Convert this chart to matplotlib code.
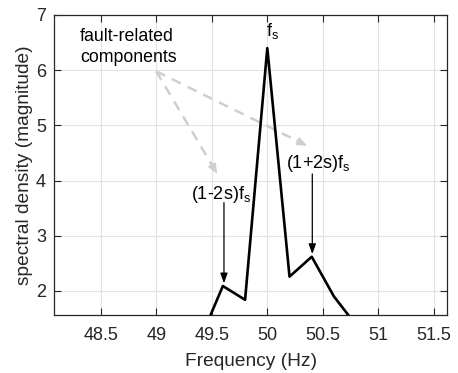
import numpy as np
import matplotlib
matplotlib.use("Agg")
import matplotlib.pyplot as plt

# spectrum around the supply frequency
freq = [49.4, 49.6, 49.8, 50.0, 50.2, 50.4, 50.6, 50.8]
magnitude = [1.14, 2.09, 1.84, 6.40, 2.26, 2.62, 1.90, 1.38]

x_ticks = [48.5, 49, 49.5, 50, 50.5, 51, 51.5]
x_ticklabels = ["48.5", "49", "49.5", "50", "50.5", "51", "51.5"]
y_ticks = [2, 3, 4, 5, 6, 7]

# annotation anchors (data coords)
fs_label = (50.05, 6.52)
lower_label = (49.58, 3.67)
upper_label = (50.46, 4.23)
lower_arrow = ((49.61, 3.60), (49.61, 2.14))
upper_arrow = ((50.405, 4.12), (50.405, 2.67))
fault_text = (48.315, 6.77)
fault_origin = (49.0, 5.98)
fault_tips = [(49.55, 4.12), (50.36, 4.63)]

plt.rcParams["font.family"] = ["Liberation Sans", "DejaVu Sans"]
txt = "#262626"

fig = plt.figure(figsize=(4.58, 3.73), dpi=100)
ax = fig.add_axes([0.1186, 0.1555, 0.858, 0.8043])

ax.plot(freq, magnitude, color="black", lw=1.9, zorder=3)

ax.set_xlim(48.083, 51.62)
ax.set_ylim(1.565, 7.0)
ax.set_xticks(x_ticks)
ax.set_xticklabels(x_ticklabels)
ax.set_yticks(y_ticks)
ax.grid(True, color="#e3e3e3", lw=0.8)
ax.set_axisbelow(True)
ax.tick_params(direction="in", length=5, width=0.8, top=True, right=True,
               labelsize=13, colors=txt)
ax.tick_params(axis="x", pad=9)
ax.tick_params(axis="y", pad=6)
for s in ax.spines.values():
    s.set_color(txt)
    s.set_linewidth(0.9)

ax.set_xlabel("Frequency (Hz)", fontsize=13.8, color=txt, labelpad=6)
ax.set_ylabel("spectral density (magnitude)", fontsize=13.8, color=txt, labelpad=2)

ax.text(*fs_label, r"$\mathregular{f_s}$", ha="center", va="bottom",
        fontsize=13, color="black")
ax.text(*lower_label, r"(1-2s)$\mathregular{f_s}$", ha="center", va="baseline",
        fontsize=13, color="black")
ax.text(*upper_label, r"(1+2s)$\mathregular{f_s}$", ha="center", va="baseline",
        fontsize=13, color="black")

for start, end in [lower_arrow, upper_arrow]:
    ax.annotate("", xy=end, xytext=start,
                arrowprops=dict(arrowstyle="-|>,head_width=0.22,head_length=0.6",
                                color="black", lw=0.9, shrinkA=0, shrinkB=0))

ax.text(*fault_text, "fault-related\ncomponents", ha="left", va="top",
        fontsize=12.8, color="black", linespacing=1.3)

gray = "#cfcfcf"
for tip in fault_tips:
    x0, y0 = fault_origin
    x1, y1 = tip
    # dashed shaft, stopped short of the head
    xe = x0 + (x1 - x0) * 0.93
    ye = y0 + (y1 - y0) * 0.93
    ax.plot([x0, xe], [y0, ye], color=gray, lw=1.8, ls=(0, (4, 3)), zorder=2)
    ax.annotate("", xy=tip, xytext=(xe, ye),
                arrowprops=dict(arrowstyle="-|>,head_width=0.25,head_length=0.6",
                                color=gray, lw=1.2, shrinkA=0, shrinkB=0), zorder=2)

fig.savefig("out.png", dpi=100)
